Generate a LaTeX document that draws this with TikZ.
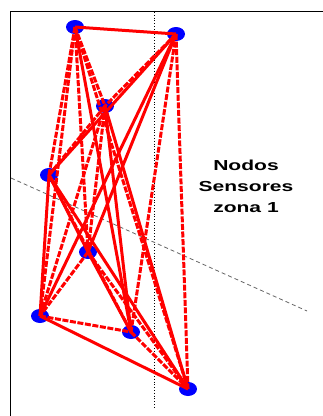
\documentclass[tikz,border=0pt]{standalone}
\usepackage{fontspec}
\setmainfont{Liberation Sans}
\usepackage{graphicx}

\tikzset{
  sensor/.style={ellipse, fill=blue, minimum width=18pt, minimum height=14pt, inner sep=0pt},
  link/.style={red, line width=3pt},
  dlink/.style={red, line width=3pt, dash pattern=on 6pt off 1.6pt},
}
\usetikzlibrary{shapes.geometric}

\begin{document}
\begin{tikzpicture}[x=1pt, y=-1pt]
                \useasboundingbox (0,0) rectangle (323,416);
                \fill [white] (0,0) rectangle (323,416);
                % marco
                \draw [line width=1.6pt] (10.5,416) -- (10.5,11.5) -- (323,11.5);
                \draw [dotted, line width=0.8pt] (154,12) -- (154,407);
                \draw [dashed, gray!80!black, line width=0.8pt, dash pattern=on 4pt off 3pt] (11,178) -- (307,311);
                % nodos sensores
                \node [sensor] (n1) at (75,27) {};
                \node [sensor] (n2) at (176,34) {};
                \node [sensor] (n3) at (105,106) {};
                \node [sensor] (n4) at (49,175) {};
                \node [sensor] (n5) at (88,252) {};
                \node [sensor] (n6) at (40,316) {};
                \node [sensor] (n7) at (131,332) {};
                \node [sensor] (n8) at (188,389) {};
                % enlaces
                \draw [link] (n1.center) -- (n2.center);
                \draw [dlink] (n1.center) -- (n3.center);
                \draw [dlink] (n1.center) -- (n4.center);
                \draw [dlink] (n1.center) -- (n5.center);
                \draw [dlink] (n1.center) -- (n6.center);
                \draw [link] (n1.center) -- (n7.center);
                \draw [dlink] (n1.center) -- (n8.center);
                \draw [dlink] (n2.center) -- (n3.center);
                \draw [link] (n2.center) -- (n4.center);
                \draw [link] (n2.center) -- (n5.center);
                \draw [link] (n2.center) -- (n6.center);
                \draw [dlink] (n2.center) -- (n7.center);
                \draw [dlink] (n2.center) -- (n8.center);
                \draw [dlink] (n3.center) -- (n4.center);
                \draw [dlink] (n3.center) -- (n5.center);
                \draw [dlink] (n3.center) -- (n6.center);
                \draw [link] (n3.center) -- (n7.center);
                \draw [link] (n3.center) -- (n8.center);
                \draw [link] (n4.center) -- (n5.center);
                \draw [link] (n4.center) -- (n6.center);
                \draw [dlink] (n4.center) -- (n7.center);
                \draw [link] (n4.center) -- (n8.center);
                \draw [dlink] (n5.center) -- (n6.center);
                \draw [link] (n5.center) -- (n7.center);
                \draw [dlink] (n5.center) -- (n8.center);
                \draw [dlink] (n6.center) -- (n7.center);
                \draw [link] (n6.center) -- (n8.center);
                \draw [dlink] (n7.center) -- (n8.center);
                % texto
                \node (zona) at (246,187) {\scalebox{1.45}[1]{\fontsize{14.5}{21}\selectfont\bfseries
                  \begin{tabular}{@{}c@{}}Nodos\\Sensores\\zona 1\end{tabular}}};
\end{tikzpicture}
\end{document}
